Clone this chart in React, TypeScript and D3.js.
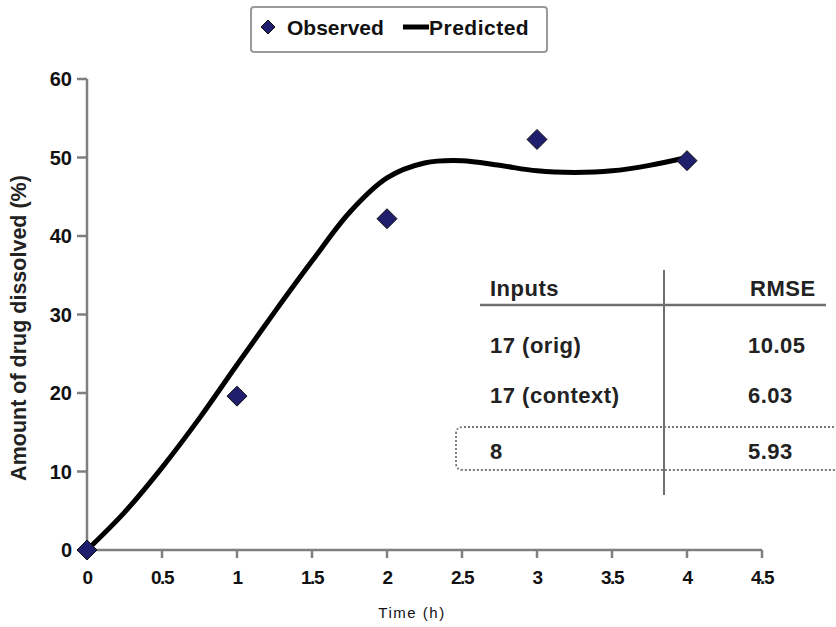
import React from "react";
import * as d3 from "d3";

// observed dissolution points
const obsTime = [0, 1, 2, 3, 4];
const obsValue = [0, 19.6, 42.2, 52.3, 49.6];

// predicted curve
const predTime = [0, 0.25, 0.5, 0.75, 1, 1.25, 1.5, 1.75, 2, 2.25, 2.5, 2.75, 3, 3.25, 3.5, 3.75, 4];
const predValue = [0, 4.8, 10.5, 16.8, 23.6, 30.3, 36.8, 43, 47.4, 49.3, 49.6, 49, 48.3, 48.1, 48.3, 49, 50];

const xTicks = [0, 0.5, 1, 1.5, 2, 2.5, 3, 3.5, 4, 4.5];
const yTicks = [0, 10, 20, 30, 40, 50, 60];

// inset table
const tableInputs = ["17 (orig)", "17 (context)", "8"];
const tableRmse = ["10.05", "6.03", "5.93"];

const W = 836;
const H = 627;
const margin = { top: 79, right: 74, bottom: 77, left: 87 };
const FONT = "'Liberation Sans', Arial, sans-serif";

const App = () => {
  const x = d3.scaleLinear().domain([0, 4.5]).range([margin.left, W - margin.right]);
  const y = d3.scaleLinear().domain([0, 60]).range([H - margin.bottom, margin.top]);

  const line = d3
    .line<number>()
    .x((_, i) => x(predTime[i]))
    .y((d) => y(d))
    .curve(d3.curveCatmullRom.alpha(0.5));

  const diamond = (cx: number, cy: number, r: number) =>
    `M${cx},${cy - r}L${cx + r},${cy}L${cx},${cy + r}L${cx - r},${cy}Z`;

  const axisColor = "#7f7f7f";
  const y0 = y(0);
  const rowY = [353, 403, 459];
  const tableText = { fontFamily: FONT, fontWeight: "bold", fontSize: 22, letterSpacing: 0.5, fill: "#222" } as const;

  return (
    <div style={{ position: "absolute", left: 0, top: 0 }}>
      <svg width={W} height={H} style={{ display: "block", background: "#fff" }}>
        {/* legend */}
        <rect x={251} y={7} width={296} height={45} rx={3} fill="#fff" stroke="#9a9a9a" strokeWidth={2} />
        <path d={diamond(268, 27, 7)} fill="#1f1f6e" stroke="#111" strokeWidth={1} />
        <text x={287} y={35} fontFamily={FONT} fontWeight="bold" fontSize={21} fill="#111">
          Observed
        </text>
        <line x1={403} x2={429} y1={27} y2={27} stroke="#000" strokeWidth={5} />
        <text x={429} y={35} fontFamily={FONT} fontWeight="bold" fontSize={21} letterSpacing={0.5} fill="#111">
          Predicted
        </text>

        {/* axes */}
        <line x1={x(0)} x2={x(0)} y1={y(60)} y2={y0} stroke={axisColor} strokeWidth={2.5} />
        <line x1={x(0)} x2={x(4.5)} y1={y0} y2={y0} stroke={axisColor} strokeWidth={2.5} />
        {yTicks.map((t) => (
          <g key={"y" + t}>
            <line x1={x(0) - 10} x2={x(0)} y1={y(t)} y2={y(t)} stroke={axisColor} strokeWidth={2.5} />
            <text
              x={x(0) - 15}
              y={y(t) + 7}
              textAnchor="end"
              fontFamily={FONT}
              fontWeight="bold"
              fontSize={20}
              fill="#111"
            >
              {t}
            </text>
          </g>
        ))}
        {xTicks.map((t) => (
          <g key={"x" + t}>
            <line x1={x(t)} x2={x(t)} y1={y0} y2={y0 + 8} stroke={axisColor} strokeWidth={2.5} />
            <text
              x={x(t)}
              y={y0 + 34}
              textAnchor="middle"
              fontFamily={FONT}
              fontWeight="bold"
              fontSize={19}
              letterSpacing={-1.5}
              fill="#111"
            >
              {t}
            </text>
          </g>
        ))}
        <text
          x={412}
          y={618}
          textAnchor="middle"
          fontFamily={FONT}
          fontSize={15}
          letterSpacing={1.5}
          fill="#111"
        >
          Time (h)
        </text>
        <text
          transform={`translate(26,328) rotate(-90)`}
          textAnchor="middle"
          fontFamily={FONT}
          fontWeight="bold"
          fontSize={21.5}
          fill="#222"
        >
          Amount of drug dissolved (%)
        </text>

        {/* predicted curve */}
        <path d={line(predValue) || ""} fill="none" stroke="#000" strokeWidth={5} />

        {/* observed points */}
        {obsValue.map((v, i) => (
          <path key={i} d={diamond(x(obsTime[i]), y(v), 10)} fill="#1f1f6e" stroke="#111" strokeWidth={1} />
        ))}

        {/* inset table */}
        <line x1={664} x2={664} y1={270} y2={495} stroke="#6f6f6f" strokeWidth={2} />
        <line x1={480} x2={826} y1={305} y2={305} stroke="#6f6f6f" strokeWidth={2.5} />
        <text x={490} y={296} {...tableText}>
          Inputs
        </text>
        <text x={750} y={296} {...tableText}>
          RMSE
        </text>
        {tableInputs.map((s, i) => (
          <g key={s}>
            <text x={490} y={rowY[i]} {...tableText}>
              {s}
            </text>
            <text x={748} y={rowY[i]} {...tableText}>
              {tableRmse[i]}
            </text>
          </g>
        ))}
        <path
          d="M850,427 H463 Q456,427 456,434 V463 Q456,470 463,470 H850"
          fill="none"
          stroke="#777"
          strokeWidth={1.8}
          strokeDasharray="2,2"
        />
      </svg>
    </div>
  );
};

export default App;
